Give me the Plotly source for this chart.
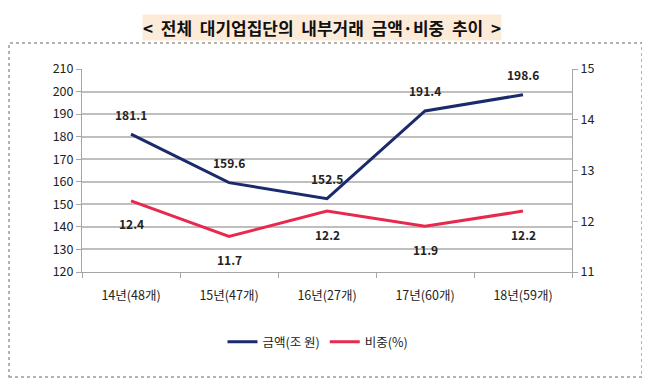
import plotly.graph_objects as go

categories = ["14년(48개)", "15년(47개)", "16년(27개)", "17년(60개)", "18년(59개)"]
amount = [181.1, 159.6, 152.5, 191.4, 198.6]
share = [12.4, 11.7, 12.2, 11.9, 12.2]
left_ticks = list(range(120, 211, 10))
right_ticks = [11, 12, 13, 14, 15]

NAVY = "#1b2a6b"
RED = "#e8294f"
FONT = "Noto Sans CJK KR"

# page body has an 8px margin; compensate
OFF = 8
PL, PR, PT, PB = 82, 572, 69, 272  # target plot box in window pixels
H = PB - PT
W = PR - PL


def py(y):
    return (PB - y) / H


def px(x):
    return (x - PL) / W


fig = go.Figure()
fig.add_trace(go.Scatter(x=categories, y=amount, mode="lines", name="금액(조 원)",
                         line=dict(color=NAVY, width=3), yaxis="y"))
fig.add_trace(go.Scatter(x=categories, y=share, mode="lines", name="비중(%)",
                         line=dict(color=RED, width=3), yaxis="y2"))

lab_font = dict(size=12, color="#222", family=FONT, weight="bold")
ann = []
for c, v in zip(categories, amount):
    ann.append(dict(x=c, y=v, xref="x", yref="y", text=f"{v:.1f}", showarrow=False,
                    yshift=20, font=lab_font))
for c, v in zip(categories, share):
    ann.append(dict(x=c, y=v, xref="x", yref="y2", text=f"{v:.1f}", showarrow=False,
                    yshift=-23, font=lab_font))
ann.append(dict(x=px(322), y=py(27), xref="paper", yref="paper", xanchor="center", yanchor="middle",
                text="<  전체  대기업집단의  내부거래  금액·비중  추이  >", showarrow=False,
                bgcolor="#fdebd9", borderpad=0,
                font=dict(size=17, color="#111", family=FONT, weight="bold")))

tick_font = dict(size=12.5, color="#222", family=FONT)

fig.update_layout(
    width=650, height=385,
    margin=dict(l=PL - OFF, r=650 - PR + OFF, t=PT - OFF, b=385 - PB + OFF, autoexpand=False),
    paper_bgcolor="white", plot_bgcolor="white",
    font=dict(family=FONT, size=11, color="#333"),
    showlegend=True,
    legend=dict(orientation="h", x=px(318), xanchor="center", y=py(342), yanchor="middle",
                font=dict(size=12.5, color="#222", family=FONT), tracegroupgap=0),
    xaxis=dict(type="category", showgrid=False, showline=True, linecolor="#a6a6a6", linewidth=1,
               ticks="outside", ticklen=5, tickcolor="#a6a6a6", tickson="boundaries",
               ticklabelstandoff=12, tickfont=tick_font, range=[-0.5, 4.5]),
    yaxis=dict(range=[120, 210], tickvals=left_ticks, showgrid=True, gridcolor="#bfbfbf", gridwidth=1.5,
               showline=True, linecolor="#a6a6a6", linewidth=1, ticks="outside", ticklen=5,
               tickcolor="#a6a6a6", tickfont=tick_font, zeroline=False),
    yaxis2=dict(range=[11, 15], tickvals=right_ticks, overlaying="y", side="right", showgrid=False,
                showline=True, linecolor="#a6a6a6", linewidth=1, ticks="outside", ticklen=5,
                tickcolor="#a6a6a6", tickfont=tick_font, zeroline=False),
    annotations=ann,
    shapes=[dict(type="rect", xref="paper", yref="paper",
                 x0=px(OFF + 1), x1=px(642), y0=py(377), y1=py(43),
                 line=dict(color="#9a9a9a", width=1.5, dash="dot"), fillcolor="rgba(0,0,0,0)")],
)

fig.write_html("out.html")
